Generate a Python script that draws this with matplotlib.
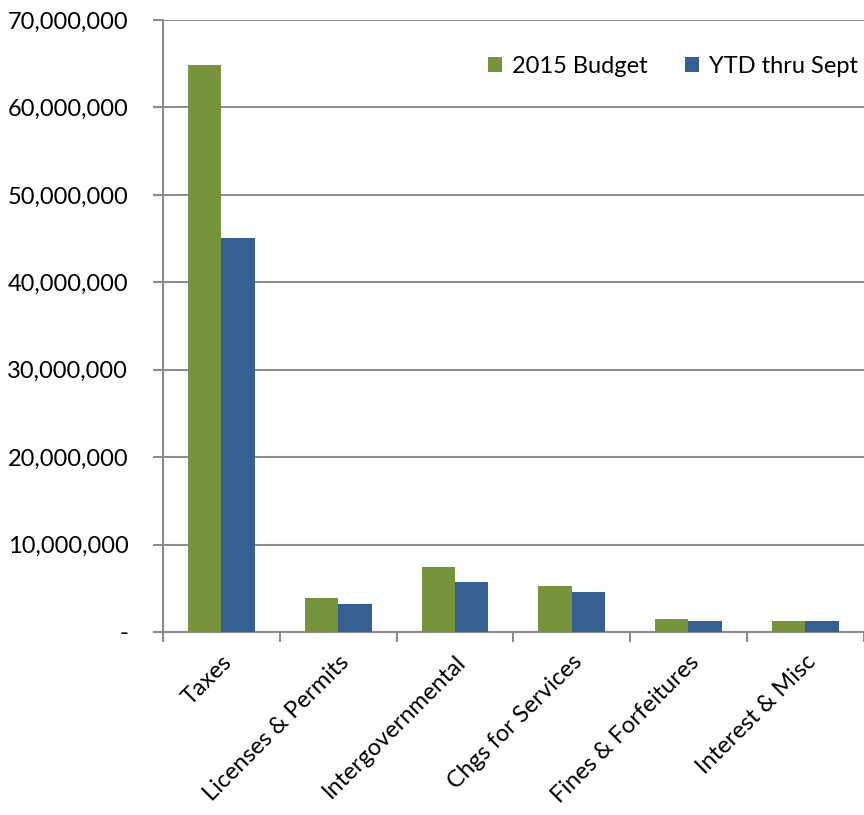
import matplotlib
matplotlib.use("Agg")
import matplotlib.pyplot as plt
import numpy as np
from matplotlib.ticker import FuncFormatter, FixedLocator

categories = ["Taxes", "Licenses & Permits", "Intergovernmental",
              "Chgs for Services", "Fines & Forfeitures", "Interest & Misc"]
budget_2015 = [64800000, 3870000, 7390000, 5290000, 1490000, 1230000]
ytd_sept = [45080000, 3180000, 5670000, 4560000, 1300000, 1260000]
series_labels = ["2015 Budget", "YTD thru Sept"]
colors = ["#77933C", "#376092"]

plt.rcParams['font.family'] = ['Lato', 'DejaVu Sans']
FS = 17

fig = plt.figure(figsize=(8.64, 8.15), dpi=100)
ax = fig.add_axes([163/864, 1-632/815, 1-163/864 - 0.0005, (632-20)/815])

x = np.arange(len(categories))
w = 1/3.5
ax.bar(x - w/2, budget_2015, w, color=colors[0], label=series_labels[0], zorder=3)
ax.bar(x + w/2, ytd_sept, w, color=colors[1], label=series_labels[1], zorder=3)

ax.set_xlim(-0.5, len(categories) - 0.5)
ax.set_ylim(0, 70000000)
ax.set_yticks(np.arange(0, 70000001, 10000000))
ax.yaxis.set_major_formatter(FuncFormatter(lambda v, p: "-" if v == 0 else f"{int(v):,}"))
ax.grid(axis='y', color='#8c8c8c', linewidth=1.5, zorder=0)
ax.set_axisbelow(True)

ax.set_xticks(x)
ax.set_xticklabels(categories, rotation=45, ha='right', rotation_mode='anchor', fontsize=FS)
ax.xaxis.set_minor_locator(FixedLocator(np.arange(-0.5, len(categories), 1)))
ax.tick_params(axis='x', which='major', length=0, pad=14)
ax.tick_params(axis='x', which='minor', length=7, width=1.5, color='#8c8c8c', direction='out')
ax.tick_params(axis='y', length=7, width=1.5, color='#8c8c8c', labelsize=FS, pad=18)

for s in ['top', 'right']:
    ax.spines[s].set_visible(False)
for s in ['left', 'bottom']:
    ax.spines[s].set_color('#8c8c8c')
    ax.spines[s].set_linewidth(1.5)

leg = ax.legend(loc='upper right', bbox_to_anchor=(1.005, 0.957), ncol=2, frameon=False,
                fontsize=FS, handlelength=0.6, handleheight=0.6, handletextpad=0.4,
                columnspacing=1.6, borderaxespad=0.0)

fig.savefig("out.png", dpi=100)
